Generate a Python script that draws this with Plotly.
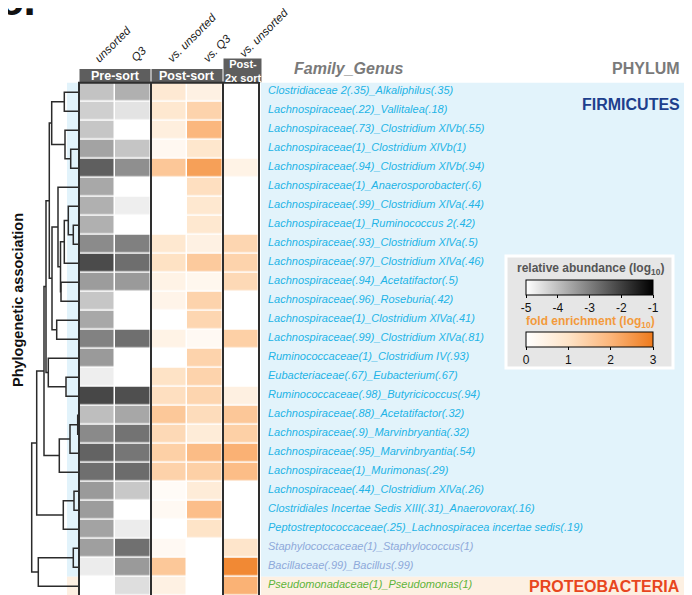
import plotly.graph_objects as go

# ---------------- data ----------------
taxa = [
    "Clostridiaceae 2(.35)_Alkaliphilus(.35)",
    "Lachnospiraceae(.22)_Vallitalea(.18)",
    "Lachnospiraceae(.73)_Clostridium XlVb(.55)",
    "Lachnospiraceae(1)_Clostridium XlVb(1)",
    "Lachnospiraceae(.94)_Clostridium XlVb(.94)",
    "Lachnospiraceae(1)_Anaerosporobacter(.6)",
    "Lachnospiraceae(.99)_Clostridium XlVa(.44)",
    "Lachnospiraceae(1)_Ruminococcus 2(.42)",
    "Lachnospiraceae(.93)_Clostridium XlVa(.5)",
    "Lachnospiraceae(.97)_Clostridium XlVa(.46)",
    "Lachnospiraceae(.94)_Acetatifactor(.5)",
    "Lachnospiraceae(.96)_Roseburia(.42)",
    "Lachnospiraceae(1)_Clostridium XlVa(.41)",
    "Lachnospiraceae(.99)_Clostridium XlVa(.81)",
    "Ruminococcaceae(1)_Clostridium IV(.93)",
    "Eubacteriaceae(.67)_Eubacterium(.67)",
    "Ruminococcaceae(.98)_Butyricicoccus(.94)",
    "Lachnospiraceae(.88)_Acetatifactor(.32)",
    "Lachnospiraceae(.9)_Marvinbryantia(.32)",
    "Lachnospiraceae(.95)_Marvinbryantia(.54)",
    "Lachnospiraceae(1)_Murimonas(.29)",
    "Lachnospiraceae(.44)_Clostridium XlVa(.26)",
    "Clostridiales Incertae Sedis XIII(.31)_Anaerovorax(.16)",
    "Peptostreptococcaceae(.25)_Lachnospiracea incertae sedis(.19)",
    "Staphylococcaceae(1)_Staphylococcus(1)",
    "Bacillaceae(.99)_Bacillus(.99)",
    "Pseudomonadaceae(1)_Pseudomonas(1)",
]
taxon_group = ["clostridia"] * 24 + ["bacilli", "bacilli", "proteo"]

# log10 relative abundance, pre-sort
abund_unsorted = [-4.06, -4.25, -4.10, -3.56, -2.49, -3.64, -3.76, -3.76, -3.18, -2.18,
                  -3.45, -4.10, -3.64, -3.04, -3.42, -4.73, -2.11, -3.98, -3.16, -2.55,
                  -2.74, -3.42, -3.45, -3.56, -3.50, -4.70, -5.00]
abund_q3 = [-3.76, -4.56, -5.00, -4.09, -3.24, -5.00, -4.73, -5.00, -3.00, -2.73,
            -3.42, -5.00, -5.00, -2.74, -5.00, -5.00, -2.24, -3.62, -2.80, -2.85,
            -2.70, -4.14, -5.00, -4.70, -2.76, -3.42, -4.48]

# log10 fold enrichment
fold_post_vs_unsorted = [0.80, 0.85, 0.60, 0.25, 1.62, 0.00, 0.00, 0.00, 0.85, 1.05,
                         0.45, 0.40, 0.00, 0.45, 0.00, 1.02, 1.10, 1.60, 1.23, 1.43,
                         1.38, 0.15, 0.22, 0.00, 0.22, 1.60, 0.50]
fold_post_vs_q3 = [0.50, 1.36, 1.95, 0.90, 2.36, 1.10, 0.85, 0.85, 0.50, 1.55,
                   0.30, 1.36, 1.30, 0.22, 1.36, 1.36, 1.32, 1.17, 0.70, 1.85,
                   1.43, 0.70, 1.80, 1.00, 0.00, 0.00, 0.00]
fold_2x_vs_unsorted = [0.00, 0.00, 0.00, 0.00, 0.45, 0.00, 0.00, 0.00, 1.30, 1.36,
                       1.23, 0.00, 0.00, 1.43, 0.00, 0.00, 0.55, 1.62, 1.43, 2.07,
                       1.83, 0.00, 0.00, 0.00, 0.95, 2.75, 2.05]

col_labels = ["unsorted", "Q3", "vs. unsorted", "vs. Q3", "vs. unsorted"]
group_labels = ["Pre-sort", "Post-sort", "Post-<br>2x sort"]
abund_ticks = [-5, -4, -3, -2, -1]
fold_ticks = [0, 1, 2, 3]

# dendrogram linkage (scipy style): child a, child b, merge height
linkage = [
    (0, 1, 14.7), (3, 4, 8.3), (2, 28, 14.0), (27, 29, 27.3),
    (7, 8, 5.7), (6, 31, 10.7), (32, 9, 14.7), (10, 11, 18.0),
    (33, 34, 18.5), (5, 35, 21.0), (12, 13, 22.3), (36, 37, 27.0),
    (30, 38, 29.7), (15, 16, 13.0), (14, 40, 30.7), (39, 41, 33.0),
    (17, 18, 1.3), (43, 19, 9.0), (44, 20, 19.7), (42, 45, 35.0),
    (21, 22, 5.0), (47, 23, 15.7), (46, 48, 42.3), (24, 25, 5.7),
    (50, 26, 40.7), (49, 51, 47.3),
]

# ---------------- layout constants ----------------
# the page body has an 8px margin, so the figure is offset and sized to fit the window
OFF = 8
WIN_W, WIN_H = 692, 595
FW, FH = WIN_W - OFF, WIN_H - OFF
FONT = "Liberation Sans, Arial, sans-serif"


def px(sx):
    return (sx - OFF) / FW


def py(sy):
    return 1 - (sy - OFF) / FH


n = len(taxa)
row_top, row_h = 82.7, 19.0
x0, cw = 79.0, 36.0
ys = [row_top + row_h * (i + 0.5) for i in range(n)]
xs = [x0 + cw * (j + 0.5) for j in range(5)]
band_bottom_blue = row_top + row_h * 26
band_bottom = row_top + row_h * n

fig = go.Figure()

# background bands
shapes = []
for xa, xb in [(67, x0), (261, WIN_W)]:
    shapes.append(dict(type="rect", x0=xa, x1=xb, y0=row_top, y1=band_bottom_blue,
                       fillcolor="#e2f3fb", line=dict(width=0), layer="below"))
    shapes.append(dict(type="rect", x0=xa, x1=xb, y0=band_bottom_blue, y1=band_bottom,
                       fillcolor="#fdf0e2", line=dict(width=0), layer="below"))

cb_common = dict(orientation="h", x=px(589.5), xanchor="center", yanchor="top",
                 lenmode="pixels", len=127, thickness=15, xpad=0, ypad=0,
                 outlinecolor="#000", outlinewidth=1, ticks="outside", ticklen=3,
                 tickcolor="#000", tickfont=dict(size=12, color="#111", family=FONT))

# heatmaps
gray_z = [[a, b] for a, b in zip(abund_unsorted, abund_q3)]
fig.add_trace(go.Heatmap(
    x=xs[:2], y=ys, z=gray_z, zmin=-5, zmax=-1,
    colorscale=[[0, "#ffffff"], [1, "#000000"]], xgap=1.5, ygap=1.5,
    hoverinfo="skip",
    colorbar=dict(cb_common, y=py(280), tickvals=abund_ticks,
                  ticktext=[str(t) for t in abund_ticks]),
))
orange_z = [[a, b, c] for a, b, c in zip(fold_post_vs_unsorted, fold_post_vs_q3, fold_2x_vs_unsorted)]
fig.add_trace(go.Heatmap(
    x=xs[2:], y=ys, z=orange_z, zmin=0, zmax=3,
    colorscale=[[0, "#ffffff"], [0.333, "#fee4c8"], [0.667, "#fbb57a"], [1, "#ee7a1c"]],
    xgap=1.5, ygap=1.5, hoverinfo="skip",
    colorbar=dict(cb_common, y=py(332), tickvals=fold_ticks,
                  ticktext=[str(t) for t in fold_ticks]),
))

# dendrogram
node_y = {i: ys[i] for i in range(n)}
node_x = {i: x0 for i in range(n)}
dx, dy = [], []
for k, (a, b, h) in enumerate(linkage):
    xm = x0 - h
    dx += [node_x[a], xm, xm, node_x[b], None]
    dy += [node_y[a], node_y[a], node_y[b], node_y[b], None]
    node_x[n + k] = xm
    node_y[n + k] = (node_y[a] + node_y[b]) / 2
fig.add_trace(go.Scatter(x=dx, y=dy, mode="lines", line=dict(color="#2b2b2b", width=1.5),
                         hoverinfo="skip", showlegend=False))

# group borders and headers
groups = [(0, 2), (2, 4), (4, 5)]
header_tops = [69, 69, 58.5]
header_sizes = [12.5, 12.5, 11]
for (ga, gb), lab, ht, fs in zip(groups, group_labels, header_tops, header_sizes):
    gx0 = x0 + cw * ga
    gx1 = x0 + cw * gb + (3 if gb == 5 else 0)
    shapes.append(dict(type="rect", x0=gx0 + 0.5, x1=gx1 - 0.5, y0=ht, y1=row_top - 0.5,
                       fillcolor="#5e5e5e", line=dict(width=0)))
    shapes.append(dict(type="rect", x0=gx0, x1=x0 + cw * gb, y0=row_top, y1=band_bottom + 2,
                       fillcolor="rgba(0,0,0,0)", line=dict(color="#2e2e2e", width=2)))
    fig.add_annotation(x=(gx0 + gx1) / 2, y=(ht + row_top) / 2 + 0.5, text="<b>%s</b>" % lab,
                       showarrow=False, font=dict(size=fs, color="white", family=FONT),
                       xanchor="center", yanchor="middle")

# rotated column labels
for j, lab in enumerate(col_labels):
    ybase = 62 if j == 4 else 67
    fig.add_annotation(x=xs[j] - 7, y=ybase, text="<i>%s</i>" % lab, textangle=-45,
                       showarrow=False, xanchor="left", yanchor="bottom",
                       font=dict(size=11.5, color="#1a1a1a", family=FONT))

# taxon labels
label_colors = {"clostridia": "#22b3e6", "bacilli": "#8ea9da", "proteo": "#5db43a"}
for i, (t, g) in enumerate(zip(taxa, taxon_group)):
    fig.add_annotation(x=266, y=ys[i] - 2, text="<i>%s</i>" % t, showarrow=False,
                       xanchor="left", yanchor="middle",
                       font=dict(size=11, color=label_colors[g], family=FONT))

# headers & phyla
fig.add_annotation(x=292, y=68, text="<b><i>Family_Genus</i></b>", showarrow=False,
                   xanchor="left", yanchor="middle", font=dict(size=16, color="#7a7a7a", family=FONT))
fig.add_annotation(x=682, y=68, text="<b>PHYLUM</b>", showarrow=False,
                   xanchor="right", yanchor="middle", font=dict(size=16, color="#7a7a7a", family=FONT))
fig.add_annotation(x=682, y=104, text="<b>FIRMICUTES</b>", showarrow=False,
                   xanchor="right", yanchor="middle", font=dict(size=16, color="#1d3f8d", family=FONT))
fig.add_annotation(x=682, y=586, text="<b>PROTEOBACTERIA</b>", showarrow=False,
                   xanchor="right", yanchor="middle", font=dict(size=16, color="#e8461e", family=FONT))

# y title
fig.add_annotation(x=18, y=300, text="<b>Phylogenetic association</b>", textangle=-90,
                   showarrow=False, xanchor="center", yanchor="middle",
                   font=dict(size=14.5, color="#111", family=FONT))

# panel letter (cut at top)
fig.add_annotation(xref="paper", yref="paper", x=px(-3), y=py(26), text="<b>c.</b>",
                   showarrow=False, xanchor="left", yanchor="bottom",
                   font=dict(size=44, color="#111", family=FONT))

# legend box
shapes.append(dict(type="rect", x0=506, x1=673, y0=256, y1=368, fillcolor="#e6e6e6",
                   line=dict(color="white", width=3), layer="below"))
fig.add_annotation(x=590, y=269, text="<b>relative abundance (log<sub>10</sub>)</b>",
                   showarrow=False, xanchor="center", yanchor="middle",
                   font=dict(size=12, color="#555", family=FONT))
fig.add_annotation(x=590, y=322, text="<b>fold enrichment (log<sub>10</sub>)</b>",
                   showarrow=False, xanchor="center", yanchor="middle",
                   font=dict(size=12, color="#f39a3c", family=FONT))

fig.update_layout(
    width=FW, height=FH, margin=dict(l=0, r=0, t=0, b=0, autoexpand=False),
    paper_bgcolor="white", plot_bgcolor="white", shapes=shapes, showlegend=False,
    xaxis=dict(range=[OFF, WIN_W], visible=False, fixedrange=True),
    yaxis=dict(range=[WIN_H, OFF], visible=False, fixedrange=True),
    font=dict(family=FONT),
)
fig.write_html("out.html")
